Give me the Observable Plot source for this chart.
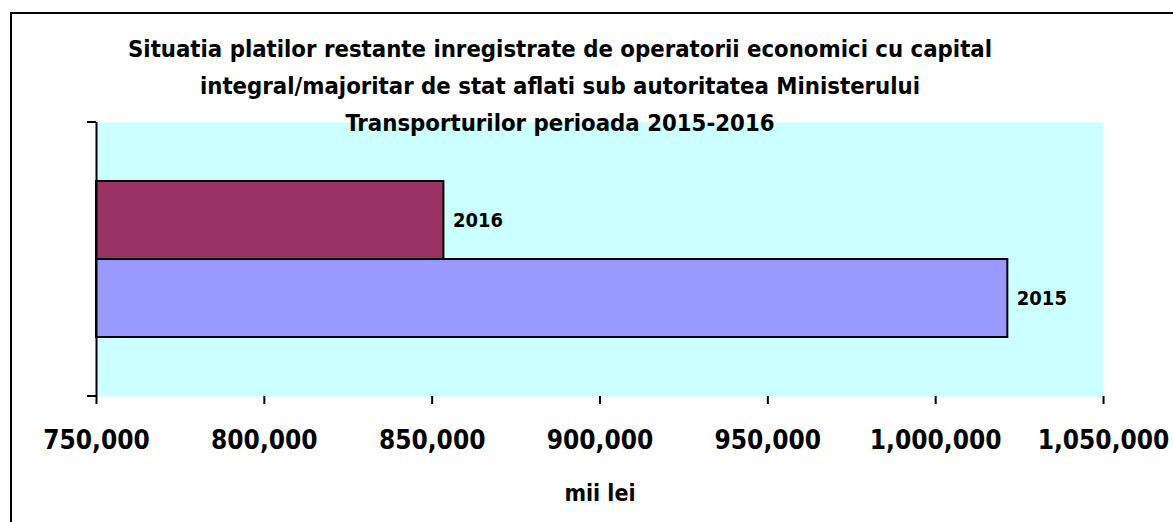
<!DOCTYPE html>
<html>
<head>
<meta charset="utf-8">
<script src="https://cdn.jsdelivr.net/npm/d3@7"></script>
<script src="https://cdn.jsdelivr.net/npm/@observablehq/plot@0.6"></script>
<style>
  html, body { margin: 0; padding: 0; background: #fff; }
  #wrap { position: relative; width: 1173px; height: 522px; overflow: hidden; }
  #border { position: absolute; left: 10px; top: 12px; width: 1300px; height: 600px;
            border-left: 2px solid #000; border-top: 2px solid #000; }
  #chart { position: absolute; left: 0; top: 0; }
  #title { position: absolute; left: 60px; width: 1000px; top: 31px; text-align: center;
           font-family: "DejaVu Sans Condensed", "DejaVu Sans", sans-serif; font-stretch: condensed;
           font-weight: bold; font-size: 23.7px; line-height: 37px; color: #000; z-index: 2; }
  svg text { font-family: "DejaVu Sans Condensed", "DejaVu Sans", sans-serif; font-stretch: condensed; }
</style>
</head>
<body>
<div id="wrap">
  <div id="border"></div>
  <div id="chart"></div>
  <div id="title"></div>
</div>
<script>
const titleLines = [
  "Situatia platilor restante inregistrate de operatorii economici cu capital",
  "integral/majoritar de stat aflati sub autoritatea Ministerului",
  "Transporturilor perioada 2015-2016"
];
const years = ["2016", "2015"];
const values = [853500, 1021500];
const colors = ["#993366", "#9999FF"];
const xDomain = [750000, 1050000];
const xTicks = [750000, 800000, 850000, 900000, 950000, 1000000, 1050000];
const xLabel = "mii lei";

const data = years.map((y, i) => ({year: y, value: values[i]}));

document.getElementById("title").innerHTML = titleLines.join("<br>");

const leftTicks = (index, scales, values, dim) => {
  const g = d3.create("svg:g").attr("stroke", "#000").attr("stroke-width", 2);
  const x = dim.marginLeft;
  for (const y of [dim.marginTop, dim.height - dim.marginBottom]) {
    g.append("line").attr("x1", x - 9).attr("x2", x).attr("y1", y).attr("y2", y);
  }
  return g.node();
};

const chart = Plot.plot({
  width: 1173,
  height: 522,
  marginTop: 122,
  marginRight: 70,
  marginBottom: 126,
  marginLeft: 96,
  style: {background: "transparent", color: "#000", overflow: "visible"},
  x: {domain: xDomain},
  y: {domain: years, paddingInner: 0, paddingOuter: 0.75, axis: null},
  color: {domain: years, range: colors},
  marks: [
    Plot.frame({fill: "#CCFFFF", stroke: null}),
    Plot.barX(data, {x1: () => xDomain[0], x2: "value", y: "year", fill: "year",
      stroke: "#000", strokeWidth: 2}),
    Plot.text(data, {x: "value", y: "year", text: "year", dx: 9, textAnchor: "start",
      fontWeight: "bold", fontSize: 20, fill: "#000"}),
    Plot.ruleX([xDomain[0]], {stroke: "#000", strokeWidth: 2}),
    Plot.ruleY([0], {frameAnchor: "bottom", stroke: "#000", strokeWidth: 2}),
    leftTicks,
    Plot.axisX({ticks: xTicks, tickFormat: d3.format(","), tickSize: 8, tickPadding: 26,
      fontSize: 26, fontWeight: "bold", strokeWidth: 2, label: null}),
    Plot.axisX({ticks: [], tickSize: 0, fontSize: 23, fontWeight: "bold",
      label: xLabel, labelAnchor: "center", labelOffset: 104, labelArrow: "none"})
  ]
});
document.getElementById("chart").appendChild(chart);
</script>
</body>
</html>
